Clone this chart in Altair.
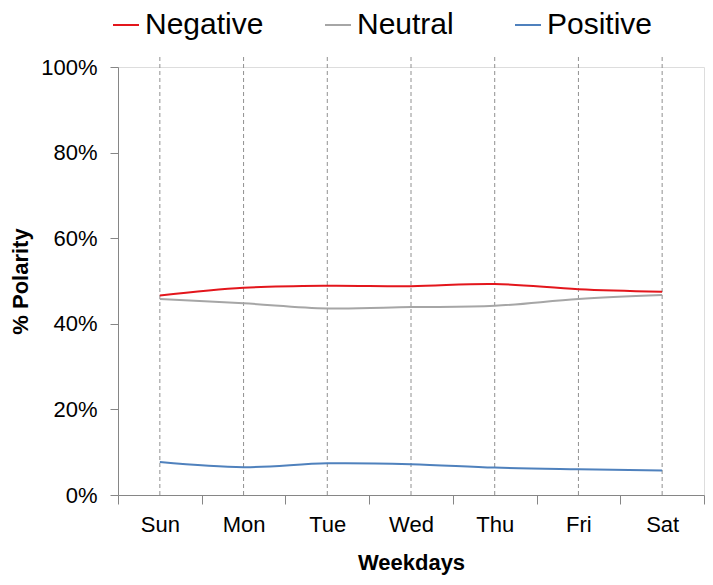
import altair as alt
import pandas as pd

days = ["Sun", "Mon", "Tue", "Wed", "Thu", "Fri", "Sat"]
negative = [46.6, 48.4, 48.9, 48.8, 49.3, 48.1, 47.5]
neutral = [45.8, 44.8, 43.6, 43.9, 44.2, 45.8, 46.7]
positive = [7.7, 6.5, 7.4, 7.2, 6.4, 6.0, 5.7]
series_names = ["Negative", "Neutral", "Positive"]
series_colors = ["#E3161C", "#A6A6A6", "#4F81BD"]
y_ticks = [0, 20, 40, 60, 80, 100]

rows = []
for name, vals in zip(series_names, [negative, neutral, positive]):
    for i, (d, v) in enumerate(zip(days, vals)):
        rows.append({"day": d, "pos": i + 0.5, "series": name, "value": v})
df = pd.DataFrame(rows)
day_df = pd.DataFrame({"day": days, "pos": [i + 0.5 for i in range(len(days))]})

FONT = "Liberation Sans"
AX = "#868686"
x_values = [i * 0.5 for i in range(2 * len(days) + 1)]
days_js = "[" + ",".join("'" + d + "'" for d in days) + "]"

x_scale = alt.Scale(domain=[0, len(days)], nice=False, zero=False)
y_scale = alt.Scale(domain=[0, 100], nice=False)

x_axis = alt.Axis(
    values=x_values,
    labelExpr="datum.value % 1 ? " + days_js + "[floor(datum.value)] : ''",
    tickOpacity={"condition": {"test": "datum.value % 1 === 0", "value": 1}, "value": 0},
    grid=False,
    title="Weekdays",
    titleFont=FONT, titleFontSize=22, titleFontWeight="bold", titlePadding=17,
    labelFont=FONT, labelFontSize=22, labelPadding=10, labelColor="black",
    labelFlush=False, labelOverlap=False,
    tickSize=9, tickColor=AX, domainColor=AX, titleColor="black",
)
y_axis = alt.Axis(
    values=y_ticks,
    labelExpr="datum.value + '%'",
    grid=False,
    title="% Polarity",
    titleFont=FONT, titleFontSize=22, titleFontWeight="bold", titlePadding=8,
    labelFont=FONT, labelFontSize=22, labelPadding=13, labelColor="black",
    tickSize=8, tickColor=AX, domainColor=AX, titleColor="black",
)

rules = alt.Chart(day_df).mark_rule(
    color="#909090", strokeWidth=1, strokeDash=[4, 3]
).encode(
    x=alt.X("pos:Q", scale=x_scale, axis=x_axis),
    y=alt.value(-10),
    y2=alt.value(428),
)

lines = alt.Chart(df).mark_line(strokeWidth=2, interpolate="cardinal").encode(
    x=alt.X("pos:Q", scale=x_scale, axis=x_axis),
    y=alt.Y("value:Q", scale=y_scale, axis=y_axis),
    color=alt.Color(
        "series:N",
        scale=alt.Scale(domain=series_names, range=series_colors),
        legend=alt.Legend(
            orient="none", legendX=-7, legendY=-57, direction="horizontal",
            title=None, symbolType="stroke", symbolSize=676, symbolStrokeWidth=2,
            labelFont=FONT, labelFontSize=30, labelColor="black", labelOffset=4,
            columnPadding=57, padding=0,
        ),
    ),
)

chart = alt.layer(rules, lines).properties(
    width=586, height=428,
    autosize=alt.AutoSizeParams(type="none"),
    padding={"left": 110, "top": 59, "right": 1, "bottom": 82},
).configure_view(stroke=None).configure(background="white")

chart.save("out.html", embed_options={"renderer": "svg", "actions": False})
